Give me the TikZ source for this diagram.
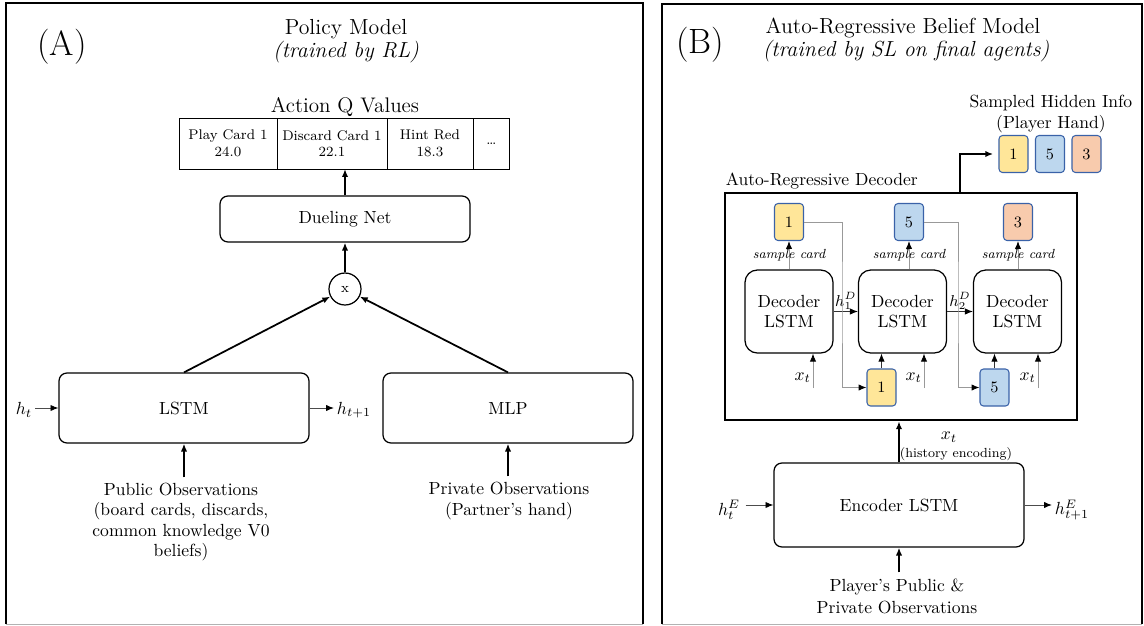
\documentclass[tikz,border=0pt]{standalone}
\usepackage{amsmath}
\usepackage{tikz}
\usetikzlibrary{positioning,arrows.meta}
\tikzset{
  >={Latex[length=4.5pt,width=3.6pt,color=black]},
}
\definecolor{cardyellow}{HTML}{FFE699}
\definecolor{cardblue}{HTML}{BDD7EE}
\definecolor{cardorange}{HTML}{F8CBAD}
\definecolor{cardedge}{HTML}{3A62A8}
\tikzstyle{every node}=[font=\fontsize{10}{11.4}\selectfont]
\tikzstyle{panel}=[line width=1.2pt]
\tikzstyle{block}=[draw,rounded corners=4.5pt,line width=0.7pt,minimum width=5cm,minimum height=1.4cm,align=center]
\tikzstyle{decblock}=[draw,rounded corners=7pt,line width=0.7pt,minimum width=1.76cm,minimum height=1.66cm,align=center]
\tikzstyle{qcell}=[draw,line width=0.5pt,outer sep=0pt,minimum height=1.02cm,inner sep=0pt,align=center,font=\fontsize{8}{9.5}\selectfont]
\tikzstyle{card}=[draw=cardedge,rounded corners=2pt,line width=0.6pt,minimum width=0.58cm,minimum height=0.74cm,inner sep=0pt,font=\fontsize{9}{10}\selectfont]
\tikzstyle{mainarrow}=[line width=1pt,->]
\tikzstyle{sidearrow}=[line width=0.5pt,->,black!70]
\tikzstyle{darkarrow}=[line width=0.5pt,->,black!80]
\tikzstyle{greyarrow}=[line width=0.5pt,->,black!40]
\tikzstyle{heading}=[font=\fontsize{12.4}{14}\selectfont]
\tikzstyle{panelletter}=[font=\fontsize{20}{22}\selectfont]
\tikzstyle{smalltxt}=[font=\fontsize{7.5}{9}\selectfont]
\tikzstyle{sampletxt}=[inner sep=0pt,text=black,font=\itshape\fontsize{7.5}{9}\selectfont]
\tikzstyle{steplbl}=[text=black,inner sep=1pt,font=\fontsize{9}{10}\selectfont]

\begin{document}
\begin{tikzpicture}[x=0.02cm,y=-0.02cm]
\useasboundingbox (0,0) rectangle (1144,626);
% panels
\draw[panel] (6,624) -- (6,3) -- (643,3) -- (643,624);
\draw[black!30] (6,624) -- (643,624);
\draw[panel] (662,624) -- (662,4) -- (1142,4) -- (1142,624);
\draw[black!30] (662,624) -- (1142,624);

% (A) policy model
\node[panelletter] (tagA) at (62,47) {(A)};
\node[heading] (titleA) at (346,29) {Policy Model};
\node[heading] (subA) at (346,52) {\textit{(trained by RL)}};
\node[font=\fontsize{12}{14}\selectfont] (qtitle) at (345,107) {Action Q Values};
\node[qcell,minimum width=1.96cm,anchor=north west] (q1) at (179,118) {Play Card 1\\24.0};
\node[qcell,minimum width=2.2cm,right=0pt of q1] (q2) {Discard Card 1\\22.1};
\node[qcell,minimum width=1.72cm,right=0pt of q2] (q3) {Hint Red\\18.3};
\node[qcell,minimum width=0.74cm,right=0pt of q3] (q4) {\dots};
\node[block,minimum height=0.92cm] (duel) at (345,219) {Dueling Net};
\node[draw,circle,line width=0.7pt,minimum size=0.64cm,inner sep=0pt,font=\fontsize{8}{9}\selectfont] (mult) at (345,289) {x};
\node[block] (lstm) at (184,408) {LSTM};
\node[block] (mlp) at (508,408) {MLP};
\node[inner sep=1.5pt] (ht) at (24,410) {$h_t$};
\node[inner sep=1.5pt] (htn) at (354,410) {$h_{t+1}$};
\node[align=center] (pub) at (181,522) {Public Observations\\(board cards, discards,\\common knowledge V0\\beliefs)};
\node[align=center] (priv) at (509,501) {Private Observations\\(Partner's hand)};
\draw[mainarrow] (duel) -- (duel |- q2.south);
\draw[mainarrow] (mult) -- (duel);
\draw[mainarrow] (lstm.north) -- (mult);
\draw[mainarrow] (mlp.north) -- (mult);
\draw[mainarrow] (lstm |- pub.north) -- (lstm);
\draw[mainarrow] (mlp |- priv.north) -- (mlp);
\draw[sidearrow] (ht.east |- lstm) -- (lstm);
\draw[sidearrow] (lstm) -- (htn.west |- lstm);

% (B) belief model
\node[panelletter] (tagB) at (700,45) {(B)};
\node[heading] (titleB) at (903,28) {Auto-Regressive Belief Model};
\node[heading] (subB) at (906,51) {\textit{(trained by SL on final agents)}};
\node[align=center] (hidden) at (1051,114) {Sampled Hidden Info\\(Player Hand)};
\node[card,fill=cardyellow] (h1) at (1013.5,154) {1};
\node[card,fill=cardblue] (h2) at (1050,154) {5};
\node[card,fill=cardorange] (h3) at (1086.5,154) {3};
\node[draw,line width=1.5pt,minimum width=7.04cm,minimum height=4.54cm] (dec) at (901,306.5) {};
\node[anchor=south west,inner sep=1pt] (declbl) at (dec.north west) {Auto-Regressive Decoder};
\coordinate (decout) at (960,193);
\draw[mainarrow,shorten >=3pt] (decout) |- (h1);

\node[decblock] (d1) at (789,311.5) {Decoder\\LSTM};
\node[decblock] (d2) at (902.5,311.5) {Decoder\\LSTM};
\node[decblock] (d3) at (1017.5,311.5) {Decoder\\LSTM};
\node[card,fill=cardyellow] (c1) at (789,222) {1};
\node[card,fill=cardblue] (c2) at (909,222) {5};
\node[card,fill=cardorange] (c3) at (1018,222) {3};
\node[card,fill=cardyellow] (b1) at (881.5,387.5) {1};
\node[card,fill=cardblue] (b2) at (994.5,387.5) {5};
\draw[greyarrow] (d1) -- node[sampletxt] (s1) {sample card} (c1);
\draw[greyarrow] (d2.north -| c2) -- node[sampletxt] (s2) {sample card} (c2);
\draw[greyarrow] (d3.north -| c3) -- node[sampletxt] (s3) {sample card} (c3);
\draw[darkarrow] (d1) -- node[steplbl,above] (hd1) {$h^D_1$} (d2);
\draw[darkarrow] (d2) -- node[steplbl,above] (hd2) {$h^D_2$} (d3);
\coordinate (k1) at (842,300);
\coordinate (k2) at (958,300);
\draw[greyarrow] (c1) -| (k1) |- (b1);
\draw[greyarrow] (c2) -| (k2) |- (b2);
\draw[darkarrow] (b1) -- (b1 |- d2.south);
\draw[darkarrow] (b2) -- (b2 |- d3.south);
\coordinate (x1) at (813,388);
\coordinate (x2) at (924,388);
\coordinate (x3) at (1038,388);
\draw[greyarrow] (x1) -- node[left,pos=0.3,text=black,inner sep=1pt] (xt1) {$x_t$} (x1 |- d1.south);
\draw[greyarrow] (x2) -- node[left,pos=0.3,text=black,inner sep=1pt] (xt2) {$x_t$} (x2 |- d2.south);
\draw[greyarrow] (x3) -- node[left,pos=0.3,text=black,inner sep=1pt] (xt3) {$x_t$} (x3 |- d3.south);

\node[block,minimum height=1.68cm] (enc) at (899,505) {Encoder LSTM};
\node (xenc) at (949,437) {$x_t$};
\node[smalltxt] (histlbl) at (956,454) {(history encoding)};
\node[inner sep=3pt] (hte) at (729,510) {$h^E_t$};
\node[inner sep=1.5pt] (hten) at (1072,510) {$h^E_{t+1}$};
\node[align=center,font=\fontsize{10}{12.5}\selectfont] (playobs) at (897,596) {Player's Public \&\\Private Observations};
\draw[mainarrow] (enc) -- (enc |- dec.south);
\draw[sidearrow] (hte.east |- enc) -- (enc);
\draw[sidearrow] (enc) -- (hten.west |- enc);
\draw[mainarrow] (enc |- playobs.north) -- (enc);
\end{tikzpicture}
\end{document}
